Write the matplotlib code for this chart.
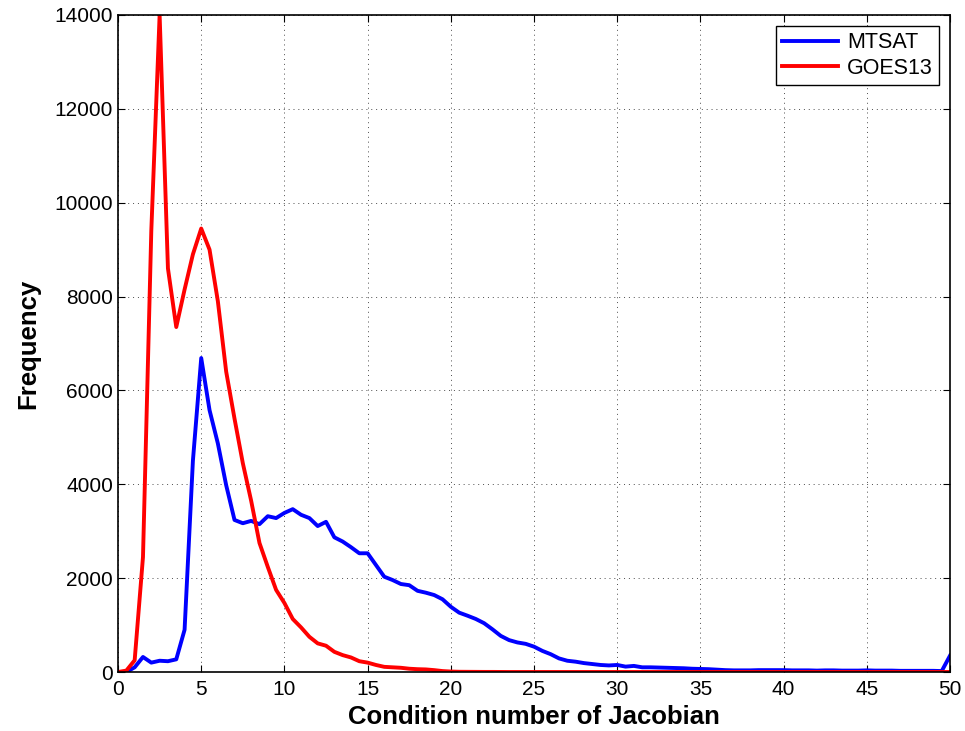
import numpy as np
import matplotlib
matplotlib.use("Agg")
import matplotlib.pyplot as plt

plt.rcParams['font.family'] = ['Liberation Sans', 'DejaVu Sans']

# condition number bins (step 0.5)
cond = np.arange(0, 50.5, 0.5)

goes13_head = [0, 30, 250, 2450, 9400, 14000, 8600, 7350, 8150, 8900,
               9450, 9000, 7900, 6400, 5400, 4450, 3650, 2750, 2240, 1750,
               1470, 1130, 950, 750, 610, 560, 430, 360, 310, 230,
               200, 150, 110, 100, 90, 70, 60, 55, 40, 20, 10]
goes13 = goes13_head + [5, 4, 3, 2, 2, 1] + [0] * (len(cond) - len(goes13_head) - 6)

mtsat = [0, 0, 100, 320, 200, 240, 230, 270, 900, 4500,
         6690, 5580, 4870, 3980, 3240, 3170, 3220, 3150, 3320, 3280,
         3390, 3470, 3350, 3280, 3110, 3200, 2870, 2780, 2660, 2530,
         2530, 2280, 2030, 1960, 1875, 1850, 1730, 1690, 1640, 1550,
         1390, 1265, 1200, 1130, 1040, 910, 770, 680, 630, 600,
         540, 450, 380, 290, 240, 220, 190, 170, 150, 140,
         150, 115, 130, 100, 100, 95, 90, 85, 80, 70,
         65, 60, 50, 40, 35, 35, 35, 40, 40, 40,
         40, 35, 35, 35, 30, 35, 35, 30, 30, 30,
         35, 30, 30, 30, 25, 25, 25, 25, 25, 20, 350]

fig = plt.figure(figsize=(9.65, 7.31), dpi=100)
ax = fig.add_axes([0.1223, 0.0807, 0.8622, 0.8988])

ax.plot(cond, mtsat, color=(0, 0, 1), lw=2.8, label='MTSAT')
ax.plot(cond, goes13, color=(1, 0, 0), lw=2.8, label='GOES13')

ax.set_xlim(0, 50)
ax.set_ylim(0, 14000)
ax.set_xticks(np.arange(0, 51, 5))
ax.set_yticks(np.arange(0, 14001, 2000))
ax.tick_params(direction='in', top=True, right=True, labelsize=15, length=5, width=0.8)
ax.tick_params(axis='x', pad=6)
ax.grid(True, linestyle=(0, (1, 4)), color='black', lw=0.7, alpha=0.7)
for s in ax.spines.values():
    s.set_linewidth(1.2)

ax.set_xlabel('Condition number of Jacobian', fontsize=18.5, fontweight='bold', labelpad=4)
ax.set_ylabel('Frequency', fontsize=18.5, fontweight='bold', labelpad=10)

leg = ax.legend(loc='upper right', fontsize=15.5, fancybox=False, framealpha=1,
                edgecolor='black', borderaxespad=0.5, handlelength=2.6,
                handletextpad=0.4, labelspacing=0.2, borderpad=0.3)
leg.get_frame().set_linewidth(1.0)

fig.savefig('out.png', dpi=100)
